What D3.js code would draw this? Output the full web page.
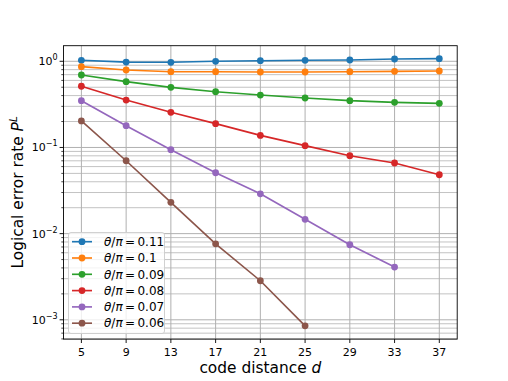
<!DOCTYPE html>
<html><head><meta charset="utf-8">
<script src="https://cdn.jsdelivr.net/npm/d3@7"></script>
<style>
html,body{margin:0;padding:0;background:#fff;}
svg{display:block;font-family:"DejaVu Sans",sans-serif;}
</style></head>
<body>
<svg id="chart" width="508" height="381"></svg>
<script>
const distances = [5, 9, 13, 17, 21, 25, 29, 33, 37];
const xTicks = [5, 9, 13, 17, 21, 25, 29, 33, 37];
const yTickExps = [0, -1, -2, -3];
const seriesLabels = ["0.11", "0.1", "0.09", "0.08", "0.07", "0.06"];
const colors = ["#1f77b4", "#ff7f0e", "#2ca02c", "#d62728", "#9467bd", "#8c564b"];
const s011 = [1.027, 0.980, 0.974, 1.000, 1.016, 1.027, 1.035, 1.063, 1.072];
const s010 = [0.866, 0.793, 0.757, 0.757, 0.751, 0.751, 0.757, 0.765, 0.772];
const s009 = [0.693, 0.580, 0.499, 0.443, 0.406, 0.375, 0.349, 0.334, 0.325];
const s008 = [0.513, 0.355, 0.256, 0.189, 0.138, 0.105, 0.0802, 0.0660, 0.0482];
const s007 = [0.349, 0.179, 0.0942, 0.0509, 0.0290, 0.01465, 0.00743, 0.00409];
const s006 = [0.203, 0.0701, 0.0231, 0.00762, 0.00284, 0.000851];
const allSeries = [s011, s010, s009, s008, s007, s006];

const W = 508, H = 381;
const L = 63.5, R = 457.2, T = 45.7, B = 339.1;
const svg = d3.select("#chart");

const x = d3.scaleLinear().domain([3.4, 38.6]).range([L, R]);
const y = d3.scaleLog().domain([Math.pow(10, -3.224), Math.pow(10, 0.181)]).range([B, T]);

const grid = svg.append("g");
const minorVals = [];
for (let e = -4; e <= 0; e++) for (let m = 2; m <= 9; m++) {
  const v = m * Math.pow(10, e);
  if (v >= y.domain()[0] && v <= y.domain()[1]) minorVals.push(v);
}
grid.selectAll("line.ymin").data(minorVals).enter().append("line")
  .attr("x1", L).attr("x2", R).attr("y1", d => y(d)).attr("y2", d => y(d))
  .attr("stroke", "#b0b0b0").attr("stroke-opacity", 0.85).attr("stroke-width", 0.9);
grid.selectAll("line.ymaj").data(yTickExps).enter().append("line")
  .attr("x1", L).attr("x2", R).attr("y1", d => y(Math.pow(10, d))).attr("y2", d => y(Math.pow(10, d)))
  .attr("stroke", "#b0b0b0").attr("stroke-width", 1);
grid.selectAll("line.xmaj").data(xTicks).enter().append("line")
  .attr("y1", T).attr("y2", B).attr("x1", d => x(d)).attr("x2", d => x(d))
  .attr("stroke", "#b0b0b0").attr("stroke-width", 1);

const line = d3.line().x((d, i) => x(distances[i])).y(d => y(d));
allSeries.forEach((s, k) => {
  const g = svg.append("g");
  g.append("path").attr("d", line(s)).attr("fill", "none")
    .attr("stroke", colors[k]).attr("stroke-width", 1.65);
  g.selectAll("circle").data(s).enter().append("circle")
    .attr("cx", (d, i) => x(distances[i])).attr("cy", d => y(d)).attr("r", 3.4)
    .attr("fill", colors[k]);
});

svg.append("rect").attr("x", L).attr("y", T).attr("width", R - L).attr("height", B - T)
  .attr("fill", "none").attr("stroke", "#000").attr("stroke-width", 0.9);

const xa = svg.append("g");
xTicks.forEach(t => {
  xa.append("line").attr("x1", x(t)).attr("x2", x(t)).attr("y1", B).attr("y2", B + 3.9)
    .attr("stroke", "#000").attr("stroke-width", 0.9);
  xa.append("text").attr("x", x(t)).attr("y", B + 16.5).attr("text-anchor", "middle")
    .attr("font-size", 11).attr("fill", "#000").text(t);
});
const ya = svg.append("g");
minorVals.forEach(v => {
  ya.append("line").attr("x1", L - 2.2).attr("x2", L).attr("y1", y(v)).attr("y2", y(v))
    .attr("stroke", "#000").attr("stroke-width", 0.7);
});
yTickExps.forEach(e => {
  const yy = y(Math.pow(10, e));
  ya.append("line").attr("x1", L - 3.9).attr("x2", L).attr("y1", yy).attr("y2", yy)
    .attr("stroke", "#000").attr("stroke-width", 0.9);
  const txt = ya.append("text").attr("x", L - 6).attr("y", yy + 4).attr("text-anchor", "end")
    .attr("font-size", 11).attr("fill", "#000");
  txt.append("tspan").text("10");
  txt.append("tspan").attr("font-size", 8).attr("dy", -5).text(e === 0 ? "0" : "\u2212" + (-e));
});

const xl = svg.append("text").attr("x", (L + R) / 2).attr("y", 373).attr("text-anchor", "middle")
  .attr("font-size", 15.4).attr("fill", "#000");
xl.append("tspan").text("code distance ");
xl.append("tspan").attr("font-style", "italic").text("d");

const yl = svg.append("text").attr("transform", `translate(23,${(T + B) / 2}) rotate(-90)`)
  .attr("text-anchor", "middle").attr("font-size", 15.4).attr("fill", "#000");
yl.append("tspan").text("Logical error rate ");
yl.append("tspan").attr("font-style", "italic").text("P");
yl.append("tspan").attr("font-style", "italic").attr("font-size", 10.5).attr("dy", -6).text("L");

const lg = svg.append("g");
lg.append("rect").attr("x", 68.5).attr("y", 232.5).attr("width", 96).attr("height", 101)
  .attr("rx", 2.5).attr("fill", "#fff").attr("fill-opacity", 0.8)
  .attr("stroke", "#cccccc").attr("stroke-width", 0.9);
seriesLabels.forEach((lab, k) => {
  const yy = 241.7 + k * 16.3;
  lg.append("line").attr("x1", 72).attr("x2", 92).attr("y1", yy).attr("y2", yy)
    .attr("stroke", colors[k]).attr("stroke-width", 1.65);
  lg.append("circle").attr("cx", 82).attr("cy", yy).attr("r", 3.4).attr("fill", colors[k]);
  const t = lg.append("text").attr("x", 104).attr("y", yy + 4.2).attr("font-size", 12).attr("fill", "#000");
  t.append("tspan").attr("font-style", "italic").text("\u03b8");
  t.append("tspan").text("/");
  t.append("tspan").attr("font-style", "italic").text("\u03c0");
  t.append("tspan").text("\u2009=\u2009" + lab);
});
</script>
</body></html>
